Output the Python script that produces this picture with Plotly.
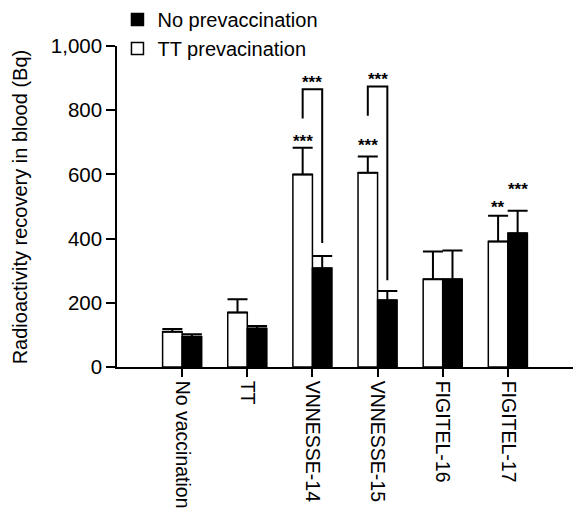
import plotly.graph_objects as go

categories = ["No vaccination", "TT", "VNNESSE-14", "VNNESSE-15", "FIGITEL-16", "FIGITEL-17"]
tt_prevac = [110, 170, 600, 605, 273, 391]
tt_prevac_err = [8, 41, 83, 51, 87, 80]
no_prevac = [94, 120, 308, 208, 273, 417]
no_prevac_err = [8, 8, 38, 29, 90, 70]

# significance labels above bars (category index, y, text)
stars_white = [(2, 714, "***"), (3, 702, "***"), (5, 510, "**")]
stars_black = [(5, 565, "***")]
# brackets: category, left-bottom, right-bottom, top, label y
brackets = [(2, 774, 386, 865, 900), (3, 783, 270, 874, 907)]

FONT = "Liberation Sans, Arial, sans-serif"
BW = 0.3
STAR_FONT = dict(family=FONT, size=17, color="black")

fig = go.Figure()
fig.add_trace(go.Bar(
    x=list(range(len(categories))), y=tt_prevac, name="TT prevacination",
    marker=dict(color="white", line=dict(color="black", width=1.5)),
    error_y=dict(type="data", array=tt_prevac_err, arrayminus=[0]*len(categories),
                 symmetric=False, color="black", thickness=2, width=10),
    offsetgroup="a", width=BW,
))
fig.add_trace(go.Bar(
    x=list(range(len(categories))), y=no_prevac, name="No prevaccination",
    marker=dict(color="black", line=dict(color="black", width=1.5)),
    error_y=dict(type="data", array=no_prevac_err, arrayminus=[0]*len(categories),
                 symmetric=False, color="black", thickness=2, width=10),
    offsetgroup="b", width=BW,
))

def star(x, y, txt):
    fig.add_annotation(x=x, y=y, text=f"<b>{txt}</b>", showarrow=False,
                       font=STAR_FONT, yanchor="middle", yshift=-4)

for ci, yv, txt in stars_white:
    star(ci - BW / 2, yv, txt)
for ci, yv, txt in stars_black:
    star(ci + BW / 2, yv, txt)
for ci, lb, rb, top, ly in brackets:
    xl, xr = ci - BW / 2, ci + BW / 2
    fig.add_shape(type="path", path=f"M {xl},{lb} L {xl},{top} L {xr},{top} L {xr},{rb}",
                  xref="x", yref="y", line=dict(color="black", width=2))
    star((xl + xr) / 2, ly, "***")

# y-axis title as rotated annotation
fig.add_annotation(xref="paper", yref="paper", x=-0.213, y=0.5, xanchor="center", yanchor="middle",
                   text="Radioactivity recovery in blood (Bq)", textangle=-90, showarrow=False,
                   font=dict(family=FONT, size=20, color="black"))

fig.update_layout(
    width=573, height=518,
    margin=dict(l=117, r=0, t=46, b=151, autoexpand=False),
    plot_bgcolor="white", paper_bgcolor="white",
    barmode="group", bargap=0.4, bargroupgap=0,
    font=dict(family=FONT, size=20, color="black"),
    showlegend=True,
    legend=dict(xref="container", yref="container", x=0.205, y=1.005,
                xanchor="left", yanchor="top", traceorder="reversed",
                font=dict(family=FONT, size=20), bgcolor="rgba(0,0,0,0)",
                itemwidth=30, tracegroupgap=0),
)
fig.update_xaxes(
    range=[-1, 6], tickmode="array", tickvals=list(range(len(categories))), ticktext=categories,
    tickangle=90, showline=True, linecolor="black", linewidth=1.5,
    ticks="outside", ticklen=8, tickwidth=1.5, tickcolor="black",
    showgrid=False, zeroline=False, tickfont=dict(size=19.5),
)
fig.update_yaxes(
    range=[0, 1000], tickvals=[0, 200, 400, 600, 800, 1000], tickformat=",",
    showline=True, linecolor="black", linewidth=1.5,
    ticks="outside", ticklen=9, tickwidth=1.5, tickcolor="black",
    showgrid=False, zeroline=False, tickfont=dict(size=20.5),
)

fig.write_html("out.html")
